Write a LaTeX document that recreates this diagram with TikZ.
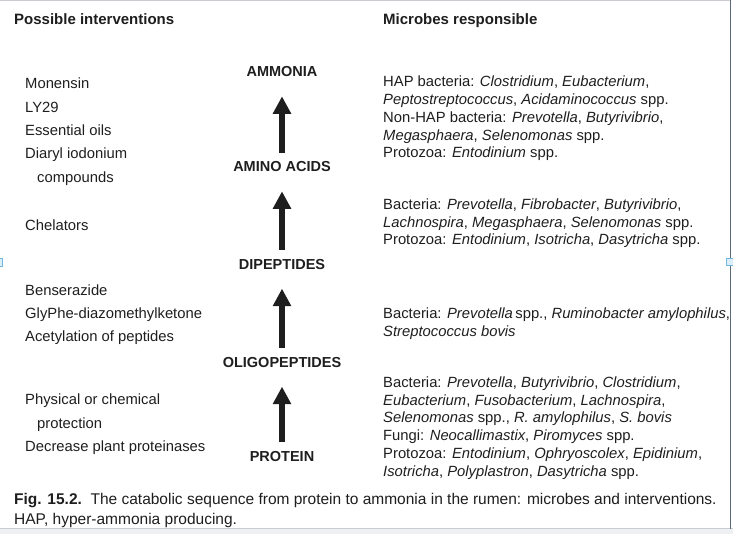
\documentclass[tikz,border=0pt]{standalone}
\usepackage{fontspec}
\setmainfont{Liberation Sans}
\usetikzlibrary{arrows.meta}
\definecolor{ink}{HTML}{1E1E1E}
\definecolor{framegrey}{HTML}{C9CCD0}
\definecolor{frameblue}{HTML}{5C6A78}
\definecolor{bandgrey}{HTML}{EEF0F3}
\definecolor{handlefill}{HTML}{DCEFF9}
\definecolor{handleline}{HTML}{6FB6DE}
\begin{document}
\begin{tikzpicture}[x=1pt,y=-1pt,
  txt/.style={anchor=base west, inner sep=0pt, font=\fontsize{14.8}{17.7}\selectfont, text=ink},
  captxt/.style={anchor=base west, inner sep=0pt, font=\fontsize{15.5}{19}\selectfont, text=ink},
  hdr/.style={anchor=base west, inner sep=0pt, font=\fontsize{15}{18}\selectfont\bfseries, text=ink},
  stage/.style={anchor=base, inner sep=0pt, font=\fontsize{14.5}{17}\selectfont\bfseries, text=ink},
  flow/.style={draw=ink, line width=6pt, -{Triangle[width=17.4pt,length=17.5pt]}, shorten <=9pt, shorten >=19pt},
  handle/.style={fill=handlefill, draw=handleline, line width=0.8pt}
]
\useasboundingbox (0,0) rectangle (733,534);
% frame of the screenshot
\draw[framegrey, line width=1.2pt] (0,0.6) -- (730,0.6);
\fill[bandgrey] (0,528.5) rectangle (733,534);
\draw[framegrey, line width=0.8pt] (0,528.5) -- (733,528.5);
\draw[frameblue, line width=1.6pt] (730.5,0) -- (730.5,528.5);
\draw[handle] (-4,258) rectangle (2.5,266);
\draw[handle] (726.5,258) rectangle (733.5,265);

% headers
\node[hdr] (hleft) at (14,25) {Possible interventions};
\node[hdr] (hright) at (383,25) {Microbes responsible};

% stages
\node[stage] (ammonia) at (282,77) {AMMONIA};
\node[stage] (amino) at (282,172) {AMINO ACIDS};
\node[stage] (dipep) at (282,269.3) {DIPEPTIDES};
\node[stage] (oligo) at (282,367.3) {OLIGOPEPTIDES};
\node[stage] (protein) at (282,461.7) {PROTEIN};

\draw[flow] (amino.north) -- (ammonia.south);
\draw[flow] (dipep.north) -- (amino.south);
\draw[flow] (oligo.north) -- (dipep.south);
\draw[flow] (protein.north) -- (oligo.south);

% interventions
\node[txt] (l1) at (25,89) {Monensin};
\node[txt] (l2) at (25,112.3) {LY29};
\node[txt] (l3) at (25,135.6) {Essential oils};
\node[txt] (l4) at (25,159) {Diaryl iodonium};
\node[txt] (l5) at (37,182.3) {compounds};
\node[txt] (l6) at (25,230.5) {Chelators};
\node[txt] (l7) at (25,295.5) {Benserazide};
\node[txt] (l8) at (25,318.5) {GlyPhe-diazomethylketone};
\node[txt] (l9) at (25,341.5) {Acetylation of peptides};
\node[txt] (l10) at (25,404.5) {Physical or chemical};
\node[txt] (l11) at (37,428) {protection};
\node[txt] (l12) at (25,451.5) {Decrease plant proteinases};

% microbes
\node[txt] (r1) at (383,87) {HAP bacteria: \textit{Clostridium}, \textit{Eubacterium},};
\node[txt] (r2) at (383,104.7) {\textit{Peptostreptococcus}, \textit{Acidaminococcus} spp.};
\node[txt] (r3) at (383,122.4) {Non-HAP bacteria: \textit{Prevotella}, \textit{Butyrivibrio},};
\node[txt] (r4) at (383,140.1) {\textit{Megasphaera}, \textit{Selenomonas} spp.};
\node[txt] (r5) at (383,157.8) {Protozoa: \textit{Entodinium} spp.};

\node[txt] (r6) at (383,209.5) {Bacteria: \textit{Prevotella}, \textit{Fibrobacter}, \textit{Butyrivibrio},};
\node[txt] (r7) at (383,227.2) {\textit{Lachnospira}, \textit{Megasphaera}, \textit{Selenomonas} spp.};
\node[txt] (r8) at (383,244.9) {Protozoa: \textit{Entodinium}, \textit{Isotricha}, \textit{Dasytricha} spp.};

\node[txt] (r9) at (383,318.5) {Bacteria: \textit{Prevotella}\,spp., \textit{Ruminobacter amylophilus},};
\node[txt] (r10) at (383,336.2) {\textit{Streptococcus bovis}};

\node[txt] (r11) at (383,387.5) {Bacteria: \textit{Prevotella}, \textit{Butyrivibrio}, \textit{Clostridium},};
\node[txt] (r12) at (383,405.2) {\textit{Eubacterium}, \textit{Fusobacterium}, \textit{Lachnospira},};
\node[txt] (r13) at (383,422.9) {\textit{Selenomonas} spp., \textit{R.~amylophilus}, \textit{S.~bovis}};
\node[txt] (r14) at (383,440.6) {Fungi: \textit{Neocallimastix}, \textit{Piromyces} spp.};
\node[txt] (r15) at (383,458.3) {Protozoa: \textit{Entodinium}, \textit{Ophryoscolex}, \textit{Epidinium},};
\node[txt] (r16) at (383,476) {\textit{Isotricha}, \textit{Polyplastron}, \textit{Dasytricha} spp.};

% caption
\node[captxt] (cap1) at (14,504) {\textbf{Fig. 15.2.}\ \ The catabolic sequence from protein to ammonia in the rumen: microbes and interventions.};
\node[captxt] (cap2) at (14,524) {HAP, hyper-ammonia producing.};
\end{tikzpicture}
\end{document}
